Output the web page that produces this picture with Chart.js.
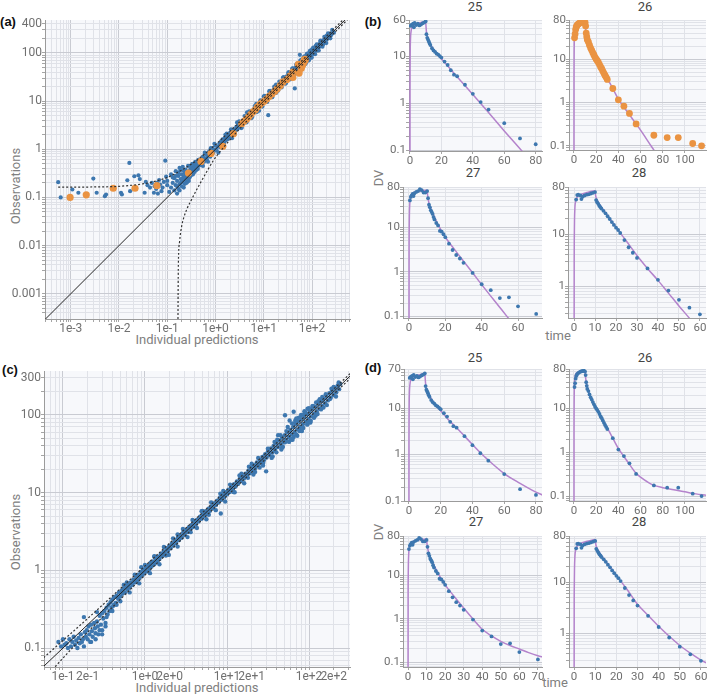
<!DOCTYPE html>
<html lang="en">
<head>
<meta charset="UTF-8">
<title>Goodness of fit and individual fits</title>
<script src="https://cdn.jsdelivr.net/npm/chart.js"></script>
<style>
  body { margin: 0; background: #fff; }
  #fig { position: relative; width: 709px; height: 694px; overflow: hidden; font-family: Roboto, "Open Sans", sans-serif; }
  #fig canvas { position: absolute; }
  .txt { position: absolute; white-space: nowrap; transform: translate(-50%, -50%); }
  .rot { transform: translate(-50%, -50%) rotate(-90deg); }
  .lab { font-family: "Liberation Sans", Arial, sans-serif; font-weight: bold; font-size: 13px; color: #111; }
  .ttl { font-size: 13px; color: #444; }
  .axt { font-size: 13px; color: #808080; }
</style>
</head>
<body>
<div id="fig">
  <div class="txt lab" style="left:8px; top:21px;">(a)</div>
  <div class="txt lab" style="left:373px; top:21px;">(b)</div>
  <div class="txt lab" style="left:10px; top:369px;">(c)</div>
  <div class="txt lab" style="left:373px; top:367px;">(d)</div>

  <div class="txt ttl" style="left:475px; top:6px;">25</div>
  <div class="txt ttl" style="left:645px; top:6px;">26</div>
  <div class="txt ttl" style="left:473px; top:172px;">27</div>
  <div class="txt ttl" style="left:639px; top:172px;">28</div>
  <div class="txt ttl" style="left:475px; top:357px;">25</div>
  <div class="txt ttl" style="left:645px; top:357px;">26</div>
  <div class="txt ttl" style="left:476px; top:521px;">27</div>
  <div class="txt ttl" style="left:639px; top:521px;">28</div>

  <div class="txt axt rot" style="left:15px; top:186px;">Observations</div>
  <div class="txt axt" style="left:197px; top:339px;">Individual predictions</div>
  <div class="txt axt rot" style="left:15px; top:532px;">Observations</div>
  <div class="txt axt" style="left:197px; top:687px;">Individual predictions</div>
  <div class="txt axt rot" style="left:378px; top:178px;">DV</div>
  <div class="txt axt" style="left:558px; top:335px;">time</div>
  <div class="txt axt rot" style="left:378px; top:532px;">DV</div>
  <div class="txt axt" style="left:555px; top:682px;">time</div>
</div>
<script>
  // ---- panel (a): observations vs individual predictions (first model) ----
  const gofA_blue = [
    [0.00055,0.207],[0.00062,0.1],[0.00108,0.146],[0.00144,0.125],[0.00294,0.246],[0.00345,0.125],[0.0051,0.106],[0.0054,0.115],
    [0.011,0.125],[0.0115,0.115],[0.0164,0.52],[0.0149,0.227],[0.017,0.135],[0.0208,0.275],[0.0253,0.288],[0.027,0.24],
    [0.034,0.125],[0.036,0.21],[0.039,0.18],[0.044,0.16],[0.048,0.2],[0.053,0.125],[0.055,0.17],[0.059,0.15],[0.062,0.2],
    [0.064,0.12],[0.068,0.23],[0.071,0.185],[0.076,0.135],[0.08,0.16],[0.085,0.21],[0.091,0.58],[0.095,0.27],[0.1,0.18],
    [0.1,0.22],[0.11,0.13],
    [0.12,0.16],[0.12,0.3],[0.13,0.2],[0.14,0.14],[0.14,0.25],[0.15,0.18],[0.15,0.35],[0.16,0.22],[0.17,0.15],[0.17,0.28],
    [0.18,0.41],[0.18,0.19],[0.19,0.24],[0.2,0.17],[0.2,0.3],[0.21,0.21],[0.22,0.26],[0.22,0.36],[0.23,0.19],[0.24,0.23],
    [0.24,0.3],[0.25,0.27],[0.26,0.21],[0.26,0.34],[0.27,0.45],[0.28,0.25],[0.29,0.3],[0.3,0.28],[0.3,0.38],[0.32,0.33],
    [0.33,0.42],[0.34,0.3],[0.35,0.36],[0.36,0.48],[0.38,0.4],[0.4,0.37],[0.42,0.5],[0.44,0.45],[0.45,0.6],[0.47,0.52],
    [0.5,0.47],[0.52,0.58],[0.55,0.7],[0.58,0.55],[0.6,0.65],[0.63,0.8],[0.66,0.62],[0.7,0.75],[0.74,0.9],[0.78,0.7],
    [0.82,0.88],[0.86,1.05],[0.9,0.85],[0.95,0.98],[1.0,1.2],[1.05,0.95],[1.1,1.12],[1.2,1.3],[1.25,1.1],
    [0.16,0.17],[0.19,0.2],[0.21,0.25],[0.23,0.27],[0.25,0.22],[0.27,0.3],[0.28,0.34],[0.31,0.29],[0.32,0.36],[0.34,0.4],
    [0.37,0.34],[0.39,0.44],[0.41,0.41],[0.43,0.39],[0.46,0.48],[0.49,0.55],[0.53,0.5],[0.57,0.62],[0.62,0.6],[0.68,0.72],
    [0.13,0.26],[0.15,0.28],[0.17,0.33],[0.19,0.37],[0.21,0.43],[0.23,0.33],[0.24,0.38],[0.26,0.28],[0.29,0.26],[0.3,0.45],
    [0.33,0.5],[0.35,0.32],[0.38,0.55],[0.4,0.48],[0.44,0.6],[0.22,0.16],[0.25,0.2],[0.28,0.22],[0.18,0.14],[0.16,0.12],
    [1.3,1.45],[1.35,1.2],[1.4,1.6],[1.5,1.35],[1.55,1.7],[1.6,1.5],[1.7,1.85],[1.75,1.6],[1.85,2.0],[1.9,1.75],
    [2.0,2.2],[2.1,1.9],[2.2,2.4],[2.3,2.1],[2.4,2.6],[2.55,2.3],[2.7,2.9],[2.85,2.6],[3.0,3.2],[3.15,2.9],
    [3.3,3.55],[3.5,3.2],[3.7,3.95],[3.9,3.6],[4.1,4.4],[4.3,4.0],[4.6,4.9],[4.8,4.5],[5.1,5.5],[5.4,5.0],
    [5.7,6.1],[6.0,5.6],[6.3,6.8],[6.7,6.2],[7.0,7.5],[7.4,6.9],[7.8,8.4],[8.2,7.6],[8.7,9.3],[9.1,8.5],
    [9.6,10.4],[10.1,9.4],[10.7,11.5],[11.2,10.4],[11.8,12.7],[12.4,11.5],[13.1,14.1],[13.8,12.8],[14.5,15.6],[15.3,14.2],
    [16.1,17.4],[17,15.7],[17.9,19.3],[18.8,17.4],[19.8,21.3],[20.9,19.3],[22,23.8],[23.2,21.4],[24.4,26.4],[25.7,23.7],
    [27.1,29.3],[28.5,26.3],[30,32.5],[31.6,29.2],[33.3,36],[35,32.4],[36.9,40],[38.9,35.9],[41,44.3],[43.1,39.8],
    [45.4,49],[47.8,44.1],[50.3,54.4],[53,48.9],[55.8,60.3],[58.7,54.2],[61.8,66.8],[65.1,60.1],[68.5,74],[72.1,66.6],
    [75.9,82],[79.9,73.8],[84.1,90.9],[88.6,81.8],[93.3,100.8],[98.2,90.7],[103,112],[109,100],[115,124],[121,111],
    [127,137],[134,124],[141,152],[148,137],[156,168],[164,152],[173,185],[182,168],[192,205],[202,187],
    [212,225],[224,207],[235,250],[248,232],[265,258],[285,262],
    [1.6,2.0],[2.2,1.7],[2.8,3.6],[3.5,2.8],[4.5,5.8],[5.5,4.4],[7,8.8],[8,6.3],[10,12.5],[11.5,10.5],
    [12.4,5.1],[13,16],[15,12],[18,22],[20,16.5],[25,30.5],[28,23],[32,38],[35,28],[40,48],
    [44,18.3],[45,37],[50,60],[56,91],[55,46],[60,72],[65,52],[70,85],[75,62],[80,96],
    [85,70],[90,108],[95,80],[100,118],[110,95],[120,140],[130,112],[150,175],[170,150],[200,225],
    [1.4,1.15],[1.7,2.1],[2.1,2.6],[2.5,2.05],[3.1,3.8],[3.4,2.75],[4,4.9],[4.4,3.6],[5,6.1],[5.8,4.7],
    [6.5,7.9],[7.2,5.9],[8.5,10.3],[9.4,7.7],[10.5,12.8],[11.8,9.6],[13.5,16.3],[14.8,12.1],[16.5,20],[18.2,14.8],
    [21,25.3],[23.5,19.2],[26,31.5],[29,23.6],[33,40],[36,29.5],[39,47],[42,34],[47,57],[52,42],
    [57,69],[62,50],[67,81],[73,59],[78,94],[86,70],[92,111],[99,80],[106,128],[116,94],
    [125,150],[138,112],[150,180],[165,134],[180,215],[198,160],[215,255],[240,200],[262,300],
    [0.95,1.3],[1.15,0.85],[0.8,1.05],[0.7,0.55],[0.55,0.45],[0.6,0.85]
  ];
  // subject 26 highlighted in orange
  const gofA_orange = [
    [0.00097,0.1],[0.0021,0.113],[0.0076,0.155],[0.0215,0.155],[0.061,0.175],[0.275,0.32],[0.5,0.56],[0.81,0.82],
    [1.42,1.15],[2.35,2.1],[3.5,3.4],[3.9,3.8],[4.4,4.2],[4.9,4.7],[5.4,5.3],[6,6],[6.7,6.6],[7.4,7.5],[8.3,8.4],
    [9.2,9.2],[10.3,10],[11.5,11],[13,12.5],[14.8,14],[17,16],[19,18],[22,21],[25,25],[30,28],[35,33],[40,40],
    [52,58],[72,70],[71,73],[70.5,72],[70,71],[69.5,70],[69,68],[67,65],[66,62],[64.5,58],[63,55],[60,48],[54,38],[40,31]
  ];
  const gofA_upper = [[0.00055,0.163],[0.003,0.165],[0.01,0.17],[0.03,0.19],[0.05,0.21],[0.1,0.26],[0.2,0.37],[0.4,0.58],
    [1,1.25],[3,3.5],[10,11.3],[30,33.5],[100,111],[700,775]];
  const gofA_lower = [[0.167,0.0003],[0.168,0.001],[0.17,0.004],[0.18,0.012],[0.2,0.026],[0.22,0.038],[0.26,0.06],[0.3,0.08],
    [0.4,0.14],[0.5,0.21],[0.7,0.38],[0.9,0.58],[1.5,1.12],[3,2.5],[10,8.9],[30,27],[100,90],[700,630]];
  const aXTicks = [1e-3, 1e-2, 1e-1, 1, 10, 100];
  const aXLabels = ['1e-3', '1e-2', '1e-1', '1e+0', '1e+1', '1e+2'];
  const aYTicks = [0.001, 0.01, 0.1, 1, 10, 100, 400];
  const aYLabels = ['0.001', '0.01', '0.1', '1', '10', '100', '400'];

  // ---- panel (c): observations vs individual predictions (second model) ----
  const gofC_blue = [
    [0.088,0.12],[0.095,0.105],[0.1,0.13],[0.105,0.11],[0.11,0.115],[0.115,0.1],[0.12,0.13],[0.125,0.105],[0.13,0.12],
    [0.135,0.14],[0.14,0.11],[0.145,0.125],[0.15,0.1],[0.155,0.135],[0.16,0.115],[0.165,0.15],[0.17,0.12],[0.175,0.13],
    [0.18,0.105],[0.185,0.16],[0.19,0.14],[0.195,0.17],[0.2,0.13],[0.205,0.19],[0.21,0.15],[0.215,0.12],[0.22,0.2],
    [0.225,0.165],[0.23,0.14],[0.24,0.21],[0.245,0.18],[0.25,0.155],[0.26,0.22],[0.265,0.19],[0.27,0.15],[0.28,0.26],
    [0.29,0.2],[0.3,0.17],[0.3,0.28],[0.31,0.24],[0.32,0.3],[0.33,0.21],[0.34,0.33],[0.35,0.27],[0.36,0.36],[0.37,0.3],
    [0.38,0.39],[0.39,0.33],[0.4,0.42],[0.41,0.35],[0.42,0.45],[0.44,0.38],[0.45,0.47],[0.47,0.43],[0.48,0.52],[0.5,0.46],
    [0.52,0.55],[0.53,0.5],[0.55,0.58],[0.57,0.52],[0.59,0.63],[0.61,0.57],[0.63,0.66],[0.65,0.6],[0.67,0.7],[0.7,0.65],
    [0.72,0.76],[0.75,0.7],[0.78,0.82],[0.8,0.74],[0.83,0.88],[0.86,0.8],[0.89,0.95],[0.92,0.86],[0.95,1.02],[0.98,0.92],
    [1.02,1.08],[1.05,0.97],[1.1,1.16],[1.13,1.04],[1.17,1.25],[1.2,1.12],[1.25,1.3],[1.3,1.2],[1.35,1.42],[1.4,1.3],
    [1.45,1.5],[1.5,1.4],[1.56,1.62],[1.62,1.52],[1.68,1.74],[1.75,1.63],[1.82,1.9],[1.9,1.78],[1.97,2.05],[2.05,1.92],
    [2.13,2.22],[2.22,2.08],[2.3,2.4],[2.4,2.25],[2.5,2.6],[2.6,2.45],[2.7,2.8],[2.8,2.62],[2.92,3.05],[3.05,2.85],
    [3.17,3.3],[3.3,3.1],[3.43,3.6],[3.57,3.35],[3.7,3.85],[3.85,3.62],[4.0,4.2],[4.17,3.92],[4.33,4.5],[4.5,4.25],
    [4.7,4.9],[4.9,4.6],[5.1,5.3],[5.3,5.0],[5.5,5.75],[5.7,5.4],[5.95,6.2],[6.2,5.85],[6.45,6.7],[6.7,6.3],
    [7.0,7.3],[7.3,6.9],[7.6,7.9],[7.9,7.45],[8.2,8.6],[8.55,8.1],[8.9,9.3],[9.25,8.75],[9.6,10.1],[10,9.5],
    [10.4,10.9],[10.8,10.2],[11.3,11.8],[11.7,11.1],[12.2,12.8],[12.7,12.0],[13.2,13.9],[13.7,13.0],[14.3,15.0],[14.9,14.1],
    [15.5,16.3],[16.1,15.2],[16.8,17.6],[17.5,16.5],[18.2,19.2],[18.9,17.8],[19.7,20.8],[20.5,19.3],[21.3,22.5],[22.2,20.8],
    [23.1,24.5],[24,22.5],[25,26.5],[26,24.3],[27,28.8],[28.1,26.2],[29.2,31.2],[30.4,28.3],[31.6,34],[32.9,30.5],
    [34.2,37],[35.6,33],[37,40],[38.5,35.5],[40,43.5],[41.6,38.5],[43.3,47],[45,41.5],[46.8,51],[48.7,44.5],
    [50.6,55],[52.6,48],[54.7,60],[56.9,52],[59.2,64],[61.5,56],[64,70],[66.5,60],[69.2,76],[72,65],
    [74.8,82],[77.8,70],[81,88],[84,76],[87.5,95],[91,82],[94.6,103],[98.4,89],[102,110],[106,96],
    [110,119],[115,104],[119,128],[124,112],[129,139],[134,121],[140,150],[145,131],[151,162],[157,142],
    [163,175],[170,154],[177,190],[184,167],[191,205],[199,181],[207,222],[215,196],[224,240],[233,215],[240,250],
    [0.18,0.25],[0.22,0.12],[0.25,0.13],[0.28,0.17],[0.3,0.15],[0.33,0.19],[0.26,0.29],[0.34,0.25],[0.4,0.3],[0.42,0.36],
    [0.5,0.4],[0.6,0.7],[0.9,1.1],[1.3,1.5],[1.8,1.55],[2.5,2.9],[3.6,3.1],[5,5.8],[6,5.2],[8.4,5.4],
    [9,10.5],[12,10.2],[15,17.5],[18,15.5],[20,23.5],[22,18.5],[25,21],[27.7,24.2],[30,18.8],[32,36.5],
    [35,28],[38,45],[40,33],[45,55],[48,39],[51,44.5],[51,99],[58,85],[60,48],[62,78],
    [65,110],[65,52],[68,85],[70,56],[75,92],[78,63],[80,100],[85,68],[90,108],[95,75],
    [100,122],[105,84],[110,130],[120,98],[130,150],[140,118],[160,185],[180,160],[200,230],
    [0.45,0.36],[0.55,0.65],[0.65,0.52],[0.75,0.88],[0.85,0.68],[1.0,1.17],[1.15,0.92],[1.3,1.52],[1.5,1.2],[1.7,2.0],
    [1.95,1.58],[2.2,2.58],[2.5,2.02],[2.9,3.4],[3.3,2.68],[3.8,4.45],[4.3,3.5],[4.9,5.75],[5.6,4.55],[6.4,7.5],
    [7.3,5.95],[8.3,9.7],[9.5,7.7],[10.9,12.7],[12.4,10.1],[14.2,16.6],[16.2,13.2],[18.5,21.6],[21,17.1],[24,28],
    [27.5,22.4],[31.5,36.8],[36,29.3],[41,48],[47,38],[53,62],[60,49],[68,80],[77,62],[87,102],
    [99,80],[112,131],[127,103],[145,170],[165,134],[188,218],[213,173],[230,262],
    [42,55],[46,36],[55,70],[57,45],[63,48],[70,90],[72,54],[82,62],[88,112],[96,120],
    [104,80],[115,92],[122,145],[135,160],[150,125]
  ];
  const gofC_upper = [[0.058,0.075],[0.1,0.125],[0.2,0.24],[1,1.14],[10,10.9],[100,108],[400,430]];
  const gofC_lower = [[0.06,0.04],[0.088,0.064],[0.2,0.16],[1,0.87],[10,9.1],[100,92],[400,372]];
  const cXTicks = [0.1, 0.2, 1, 2, 10, 20, 100, 200];
  const cXLabels = ['1e-1', '2e-1', '1e+0', '2e+0', '1e+1', '2e+1', '1e+2', '2e+2'];
  const cYTicks = [0.1, 1, 10, 100, 300];
  const cYLabels = ['0.1', '1', '10', '100', '300'];

  const unity = [[1e-5, 1e-5], [1e4, 1e4]];

  // ---- panels (b) and (d): observed concentrations of subjects 25-28 ----
  const s25Time = [0.5,1,1.5,2,2.5,3,4,5,6,7,8,9,10,10.5,11,11.5,12,12.5,13,14,15,16,17,18,19,20,22,24,26,28,30,35,40,45,50,60,70,80];
  const s25Dv = [45,47,48,50,42,52,47,50,46,48,51,53,56,30,25,23,21,19,17.5,15,13.5,12.5,11.5,11,10.2,9.5,7.8,6.6,5.1,4.1,3.8,2.5,1.6,1.07,0.74,0.38,0.18,0.135];
  const s26Time = [0.5,1,1.5,2,2.5,3,4,5,6,7,8,9,10,10.5,11,11.5,12,13,14,15,16,17,18,19,20,21,22,23,24,25,26,27,28,29,30,35,40,45,50,56,72,84,94,107,115];
  const s26Dv = [31,38,48,55,58,62,65,68,70,71,72,73,70,58,40,33,28,25,21,18,16,14,12.5,11,10,9.2,8.4,7.5,6.6,6,5.3,4.7,4.2,3.8,3.4,2.1,1.15,0.82,0.56,0.32,0.175,0.155,0.155,0.113,0.1];
  const s27Time = [0.5,1,1.5,2,2.5,3,4,5,6,7,8,9,10,10.5,11,11.5,12,12.5,13,13.5,14,15,16,17,18,19,20,22,24,26,28,30,35,40,45,50,55,60,70];
  const s27Dv = [40,48,52,56,50,58,62,65,72,68,60,60,65,45,32,28,24,22,20,17,15,12.5,11,8.3,8,7,6,4.3,3.1,2.4,2,1.6,0.95,0.53,0.39,0.26,0.27,0.17,0.115];
  const s28Time = [1,1.5,2,3,3.5,4,5,6,7,8,9,10,10.5,11,11.5,12,12.5,13,14,15,16,17,18,19,20,21,22,24,26,28,30,35,40,45,50,55,60];
  const s28Dv = [46,56,57,55,47,52,55,57,58,60,62,64,45,41,38,35,33,31,28,25,22,19.5,17,15,13.3,12,10.5,7.7,5.6,4.4,3.5,2.2,1.33,0.83,0.55,0.39,0.29];

  // individual predictions, first model (b)
  const fitB25 = [[0,0.001],[0.05,2],[0.1,6],[0.2,15],[0.4,26],[0.7,34],[1,39],[1.5,43],[2,45],[3,48],[5,51],[7,53],[10,56],
    [10.2,45],[10.5,33],[11,27],[12,21.5],[13,18],[14,16],[16,12.8],[18,10.6],[20,9],[30,3.7],[40,1.55],[50,0.64],[60,0.26],[70,0.108],[80,0.045]];
  const fitB26 = [[0,0.001],[0.05,3],[0.1,9],[0.2,20],[0.4,35],[0.7,47],[1,54],[1.5,60],[2,63],[3,66],[5,69],[7,70.5],[10,72],
    [10.2,62],[10.5,50],[11,40],[12,30],[13,25],[14,21.5],[16,16.5],[18,12.8],[20,10.2],[25,6],[30,3.6],[35,2.1],[40,1.2],
    [50,0.52],[56,0.32],[60,0.23],[70,0.095],[80,0.04]];
  const fitB27 = [[0,0.001],[0.05,3],[0.1,8],[0.2,18],[0.4,32],[0.7,43],[1,50],[1.5,55],[2,58],[3,61],[5,64],[7,66],[10,68],
    [10.2,55],[10.5,44],[11,35],[12,26],[13,21],[14,17],[16,11.5],[18,8.2],[20,6],[25,3.2],[30,1.75],[35,0.96],[40,0.52],
    [50,0.16],[54,0.1],[60,0.05]];
  const fitB28 = [[0,0.001],[0.05,3],[0.1,8],[0.2,18],[0.4,32],[0.7,42],[1,47],[1.5,51],[2,54],[3,57],[5,61],[7,64],[10,68],
    [10.2,58],[10.5,50],[11,45],[12,38],[13,33],[14,29],[16,22.5],[18,17.5],[20,13.5],[25,7.3],[30,3.9],[35,2.2],[40,1.3],
    [45,0.74],[50,0.42],[55,0.245],[60,0.14],[63,0.1]];
  // individual predictions, second model (d)
  const fitD25 = [[0,0.001],[0.05,2],[0.1,6],[0.2,15],[0.4,26],[0.7,34],[1,39],[1.5,43],[2,45],[3,48],[5,51],[7,53],[10,57],
    [10.2,46],[10.5,34],[11,27.5],[12,22],[13,18.5],[14,16],[16,12.8],[18,10.5],[20,8.8],[25,5.6],[30,3.8],[35,2.5],[40,1.65],
    [45,1.1],[50,0.76],[60,0.39],[70,0.24],[80,0.155],[84,0.135]];
  const fitD26 = [[0,0.001],[0.05,3],[0.1,9],[0.2,20],[0.4,35],[0.7,47],[1,54],[1.5,60],[2,63],[3,66],[5,69],[7,70.5],[10,72],
    [10.2,62],[10.5,50],[11,40],[12,30],[13,25],[14,21.5],[16,16.5],[18,12.8],[20,10.2],[25,6],[30,3.6],[35,2.1],[40,1.22],
    [45,0.8],[50,0.53],[56,0.33],[60,0.27],[70,0.185],[80,0.155],[90,0.14],[100,0.125],[110,0.112],[119,0.104]];
  const fitD27 = [[0,0.001],[0.05,3],[0.1,8],[0.2,18],[0.4,32],[0.7,43],[1,50],[1.5,55],[2,58],[3,61],[5,64],[7,66],[10,68],
    [10.2,55],[10.5,44],[11,35],[12,26],[13,21],[14,17],[16,11.5],[18,8.2],[20,6],[25,3.2],[30,1.75],[35,0.98],[40,0.57],
    [45,0.4],[50,0.3],[55,0.24],[60,0.2],[65,0.165],[70,0.14],[73,0.13]];
  const fitD28 = [[0,0.001],[0.05,3],[0.1,8],[0.2,18],[0.4,32],[0.7,42],[1,47],[1.5,51],[2,54],[3,57],[5,61],[7,64],[10,68],
    [10.2,58],[10.5,50],[11,45],[12,38],[13,33],[14,29],[16,22.5],[18,17.5],[20,13.5],[25,7.3],[30,3.7],[35,2.25],[40,1.38],
    [45,0.88],[50,0.58],[55,0.41],[60,0.3],[63,0.26]];

  const BLUE = '#3d77af';
  const ORANGE = '#ea9342';
  const PURPLE = '#b483cc';

  const YW = 44, XH = 22, PT = 10, PR = 8;

  const plotBg = {
    id: 'plotBg',
    beforeDraw(chart) {
      const { ctx, chartArea: a } = chart;
      ctx.save();
      ctx.fillStyle = '#f7f8fb';
      ctx.fillRect(a.left, a.top, a.right - a.left, a.bottom - a.top);
      ctx.restore();
    }
  };

  function isMajor(v) {
    const l = Math.log10(v);
    return Math.abs(l - Math.round(l)) < 1e-6;
  }

  // grid positions 1..9 x 10^n inside [min, max]
  function logGrid(min, max) {
    const out = [];
    for (let e = Math.floor(Math.log10(min)); e <= Math.ceil(Math.log10(max)); e++) {
      for (let m = 1; m < 10; m++) {
        const v = Number((m * Math.pow(10, e)).toPrecision(6));
        if (v >= min && v <= max) out.push(v);
      }
    }
    return out;
  }

  function axis(kind, min, max, labVals, labTxt, size, fit) {
    const isLog = kind === 'logarithmic';
    const gridVals = isLog ? logGrid(min, max) : labVals.slice();
    return {
      type: kind,
      min: min,
      max: max,
      afterBuildTicks: s => { s.ticks = gridVals.map(v => ({ value: v, major: isLog && isMajor(v) })); },
      afterFit: fit,
      border: { color: '#9b9b9b', width: 1 },
      grid: {
        color: c => (isLog && c.tick && isMajor(c.tick.value)) ? '#c9cbd2' : '#e0e2e8',
        tickColor: '#a5a5a5',
        tickLength: 3
      },
      ticks: {
        autoSkip: false,
        maxRotation: 0,
        minRotation: 0,
        padding: 0,
        color: '#707070',
        font: { size: size },
        callback: v => {
          const i = labVals.findIndex(t => Math.abs(t - v) <= Math.abs(t) * 1e-6 + 1e-12);
          return i < 0 ? '' : labTxt[i];
        }
      }
    };
  }

  const pts = arr => arr.map(p => ({ x: p[0], y: p[1] }));
  const zip = (xs, ys) => xs.map((x, i) => ({ x: x, y: ys[i] }));

  function panel(box, xAxis, yAxis, datasets) {
    const cv = document.createElement('canvas');
    const W = box.r - box.l + YW + PR;
    const H = box.b - box.t + PT + XH;
    cv.width = W;
    cv.height = H;
    cv.style.left = (box.l - YW) + 'px';
    cv.style.top = (box.t - PT) + 'px';
    cv.style.width = W + 'px';
    cv.style.height = H + 'px';
    document.getElementById('fig').appendChild(cv);
    new Chart(cv, {
      type: 'scatter',
      data: { datasets: datasets },
      options: {
        responsive: false,
        animation: false,
        devicePixelRatio: 1,
        events: [],
        layout: { padding: { top: PT, right: PR, left: 0, bottom: 0 } },
        plugins: { legend: { display: false }, tooltip: { enabled: false } },
        scales: { x: Object.assign({ position: 'bottom' }, xAxis), y: Object.assign({ position: 'left' }, yAxis) }
      },
      plugins: [plotBg]
    });
  }

  const fitX = s => { s.height = XH; };
  const fitY = s => { s.width = YW; };

  function lineSet(data, color, width, dash) {
    return { data: pts(data), showLine: true, pointRadius: 0, borderColor: color, borderWidth: width,
      borderDash: dash || [], cubicInterpolationMode: 'monotone' };
  }
  function dotSet(data, color, r) {
    return { data: data, pointRadius: r, pointBackgroundColor: color, pointBorderWidth: 0, showLine: false };
  }

  Chart.defaults.font.family = 'Roboto, "Open Sans", sans-serif';

  // (a)
  panel({ l: 45, t: 20, r: 350, b: 319 },
    axis('logarithmic', 2.93e-4, 613, aXTicks, aXLabels, 12, fitX),
    axis('logarithmic', 3.19e-4, 481, aYTicks, aYLabels, 12, fitY),
    [
      lineSet(unity, '#222', 1),
      lineSet(gofA_upper, '#333', 1.2, [2, 2]),
      lineSet(gofA_lower, '#333', 1.2, [2, 2]),
      dotSet(pts(gofA_orange), ORANGE, 3.6),
      dotSet(pts(gofA_blue), BLUE, 2.1)
    ]);

  // (c)
  panel({ l: 44, t: 371, r: 350, b: 667 },
    axis('logarithmic', 0.0587, 316, cXTicks, cXLabels, 12, fitX),
    axis('logarithmic', 0.057, 368, cYTicks, cYLabels, 12, fitY),
    [
      lineSet(unity, '#222', 1),
      lineSet(gofC_upper, '#333', 1.2, [2, 2]),
      lineSet(gofC_lower, '#333', 1.2, [2, 2]),
      dotSet(pts(gofC_blue), BLUE, 2.2)
    ]);

  const t20 = [0, 20, 40, 60, 80], t20L = ['0', '20', '40', '60', '80'];
  const t26 = [0, 20, 40, 60, 80, 100], t26L = ['0', '20', '40', '60', '80', '100'];
  const t27b = [0, 20, 40, 60], t27bL = ['0', '20', '40', '60'];
  const t10 = [0, 10, 20, 30, 40, 50, 60], t10L = ['0', '10', '20', '30', '40', '50', '60'];
  const t70 = [0, 10, 20, 30, 40, 50, 60, 70], t70L = ['0', '10', '20', '30', '40', '50', '60', '70'];

  function timePanel(box, xr, xt, xl, yr, yt, yl, time, dv, fit, color, r) {
    panel(box,
      axis('linear', xr[0], xr[1], xt, xl, 11.5, fitX),
      axis('logarithmic', yr[0], yr[1], yt, yl, 11.5, fitY),
      [dotSet(zip(time, dv), color, r), lineSet(fit, PURPLE, 1.5)]);
  }

  // (b)
  timePanel({ l: 409, t: 20, r: 542, b: 151 }, [-0.6, 84], t20, t20L, [0.097, 60], [0.1, 1, 10, 60], ['0.1', '1', '10', '60'],
    s25Time, s25Dv, fitB25, BLUE, 1.9);
  timePanel({ l: 569, t: 20, r: 706, b: 150 }, [-4.5, 119], t26, t26L, [0.08, 80], [0.1, 1, 10, 80], ['0.1', '1', '10', '80'],
    s26Time, s26Dv, fitB26, ORANGE, 3.4);
  timePanel({ l: 403, t: 187, r: 542, b: 318 }, [-3.3, 73.2], t27b, t27bL, [0.093, 80], [0.1, 1, 10, 80], ['0.1', '1', '10', '80'],
    s27Time, s27Dv, fitB27, BLUE, 1.9);
  timePanel({ l: 568, t: 187, r: 706, b: 318 }, [-2.9, 62.9], t10, t10L, [0.247, 80], [1, 10, 80], ['1', '10', '80'],
    s28Time, s28Dv, fitB28, BLUE, 1.9);

  // (d)
  timePanel({ l: 404, t: 369, r: 542, b: 501 }, [-3.1, 83.8], t20, t20L, [0.1, 70], [0.1, 1, 10, 70], ['0.1', '1', '10', '70'],
    s25Time, s25Dv, fitD25, BLUE, 1.9);
  timePanel({ l: 569, t: 369, r: 706, b: 501 }, [-4.5, 119], t26, t26L, [0.077, 80], [0.1, 1, 10, 80], ['0.1', '1', '10', '80'],
    s26Time, s26Dv, fitD26, BLUE, 1.9);
  timePanel({ l: 403, t: 536, r: 542, b: 667 }, [-2.7, 72.2], t70, t70L, [0.077, 80], [0.1, 1, 10, 80], ['0.1', '1', '10', '80'],
    s27Time, s27Dv, fitD27, BLUE, 1.9);
  timePanel({ l: 569, t: 536, r: 706, b: 667 }, [-2.4, 62.4], t10, t10L, [0.22, 80], [1, 10, 80], ['1', '10', '80'],
    s28Time, s28Dv, fitD28, BLUE, 1.9);
</script>
</body>
</html>
